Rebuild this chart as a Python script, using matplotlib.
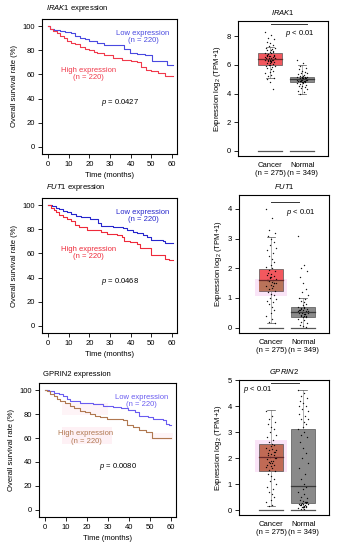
import matplotlib.pyplot as plt
from matplotlib.patches import Rectangle

plt.rcParams['font.family'] = ['Liberation Sans', 'DejaVu Sans']
plt.rcParams['mathtext.fontset'] = 'custom'
plt.rcParams['mathtext.it'] = 'Liberation Sans:italic'
plt.rcParams['mathtext.rm'] = 'Liberation Sans'

# ---- data: Kaplan-Meier curves (months, % surviving) ----
genes = ['IRAK1', 'FUT1', 'GPRIN2']
p_km = ['0.0427', '0.0468', '0.0080']

irak1_low_t = [0, 1, 3, 6, 8, 11, 13, 15.5, 18, 20, 23.5, 27, 31, 37, 39.5, 43, 47, 50.5, 57.5, 60.5]
irak1_low_s = [100, 98, 97, 96, 95, 94, 92, 90, 89, 88, 86, 84, 84, 81.5, 78, 77, 76, 71, 68, 68]
irak1_high_t = [0, 1, 2.5, 4.5, 6, 7.5, 9, 11, 13, 15.5, 18, 20, 22, 23.5, 27, 31.5, 36, 40, 43, 45, 47.5, 50, 53, 56.5, 60.5]
irak1_high_s = [100, 97.5, 96, 94, 92, 90, 88, 86, 85, 83, 81, 80, 79, 78, 76, 74, 72, 71, 70.5, 66, 63.5, 63, 61, 58.5, 58.5]

fut1_low_t = [0, 2, 4, 5.5, 7, 9, 11, 13.5, 16, 20.5, 24, 25.5, 31.5, 36.5, 38, 41, 43, 46, 48, 50, 55.5, 56.5, 60.5]
fut1_low_s = [100, 99, 98, 96.5, 95.3, 94, 92.6, 91, 90, 88.5, 85, 83, 81.6, 81, 79.5, 78, 76.7, 75.5, 74, 71, 70, 68.5, 68.5]
fut1_high_t = [0, 1.5, 3, 4, 5.5, 7, 9, 11, 13, 15, 19, 25.5, 28.5, 33.5, 35.8, 36.6, 39.8, 43, 44.6, 50, 56.7, 58.5, 60.5]
fut1_high_s = [100, 97.5, 96, 94, 92, 90.4, 88.5, 86.6, 84, 81.6, 79.5, 77.5, 76, 75, 73.4, 70.7, 69.3, 68, 64.7, 58.4, 55.6, 54.2, 54.2]

gprin2_low_t = [0, 2, 4, 6.5, 8.7, 10.5, 11.9, 16.7, 23, 27.8, 32.5, 36, 39.7, 42.9, 45, 49.2, 51.6, 56.3, 57.9, 59, 60.3]
gprin2_low_s = [100, 99, 97.8, 96.5, 95, 93, 91, 89.7, 88.3, 87, 86, 85, 83.4, 82, 78.8, 77.4, 76, 74.7, 72, 71, 71]
gprin2_high_t = [0, 0.8, 2.5, 4, 5.5, 7, 9.5, 11.9, 14, 16.7, 19, 21.4, 24, 26, 29.4, 37, 38.9, 42, 45, 48, 50.8, 60.3]
gprin2_high_s = [100, 99, 97, 95, 93, 91, 89, 87, 85, 83, 81.5, 80, 78.5, 77.4, 76, 74.7, 70.6, 69.3, 67, 65, 60.3, 60.3]

km_curves = [
    (irak1_low_t, irak1_low_s, irak1_high_t, irak1_high_s),
    (fut1_low_t, fut1_low_s, fut1_high_t, fut1_high_s),
    (gprin2_low_t, gprin2_low_s, gprin2_high_t, gprin2_high_s),
]

# ---- data: expression box plots (q1, median, q3, whisker low, whisker high) ----
groups = ['Cancer\n(n = 275)', 'Normal\n(n = 349)']
irak1_box = [(5.99, 6.4, 6.84, 5.06, 7.26), (4.78, 4.99, 5.17, 3.94, 5.99)]
fut1_box = [(1.25, 1.61, 1.98, 0.17, 3.04), (0.37, 0.53, 0.71, 0.0, 0.99)]
gprin2_box = [(1.5, 2.03, 2.56, 0.17, 3.85), (0.28, 0.94, 3.12, 0.0, 4.62)]
boxes = [irak1_box, fut1_box, gprin2_box]

irak1_cancer_pts = [8.3, 8.1, 7.9, 7.8, 7.6, 7.5, 7.4, 7.3, 7.2, 7.15, 7.1, 7.05, 7.0, 6.95, 6.9, 6.85, 6.8,
                    6.75, 6.7, 6.65, 6.6, 6.55, 6.5, 6.48, 6.45, 6.42, 6.4, 6.38, 6.35, 6.32, 6.3, 6.28, 6.25,
                    6.2, 6.15, 6.1, 6.05, 6.0, 5.95, 5.9, 5.85, 5.8, 5.7, 5.6, 5.5, 5.4, 5.3, 5.2, 5.1, 5.0,
                    4.8, 4.3, 6.6, 6.5, 6.4, 6.3, 6.7, 6.2, 6.9, 6.0, 6.52, 6.44, 6.36, 6.58, 6.62, 6.26]
irak1_normal_pts = [6.3, 6.1, 5.9, 5.8, 5.7, 5.6, 5.5, 5.45, 5.4, 5.35, 5.3, 5.25, 5.2, 5.18, 5.15, 5.12, 5.1,
                    5.08, 5.05, 5.02, 5.0, 4.98, 4.95, 4.92, 4.9, 4.88, 4.85, 4.82, 4.8, 4.78, 4.75, 4.7, 4.65,
                    4.6, 4.55, 4.5, 4.45, 4.4, 4.3, 4.2, 4.1, 4.0, 5.0, 4.9, 5.1, 4.95, 5.05, 4.85, 4.97,
                    5.03, 4.93, 5.07, 4.87, 5.13]
fut1_cancer_pts = [4.0, 3.7, 3.3, 3.2, 3.1, 3.0, 2.9, 2.8, 2.7, 2.6, 2.5, 2.4, 2.3, 2.2, 2.1, 2.05, 2.0, 1.95,
                   1.9, 1.85, 1.8, 1.75, 1.7, 1.65, 1.62, 1.6, 1.58, 1.55, 1.5, 1.45, 1.4, 1.35, 1.3, 1.25,
                   1.2, 1.15, 1.1, 1.0, 0.95, 0.9, 0.85, 0.8, 0.7, 0.6, 0.5, 0.4, 0.3, 0.2, 0.15, 1.6, 1.7, 1.5,
                   1.68, 1.52, 1.78, 1.42]
fut1_normal_pts = [3.1, 2.1, 2.0, 1.9, 1.7, 1.5, 1.3, 1.2, 1.1, 1.0, 0.95, 0.9, 0.85, 0.8, 0.75, 0.7, 0.68,
                   0.65, 0.62, 0.6, 0.58, 0.55, 0.53, 0.5, 0.48, 0.45, 0.42, 0.4, 0.38, 0.35, 0.3, 0.25, 0.2,
                   0.15, 0.1, 0.05, 0.02, 0.5, 0.55, 0.6, 0.45, 0.4, 0.65, 0.35, 0.52, 0.57, 0.47, 0.62]
gprin2_cancer_pts = [3.8, 3.6, 3.5, 3.4, 3.3, 3.2, 3.1, 3.0, 2.9, 2.8, 2.7, 2.6, 2.55, 2.5, 2.45, 2.4, 2.35,
                     2.3, 2.25, 2.2, 2.15, 2.1, 2.05, 2.0, 1.95, 1.9, 1.85, 1.8, 1.75, 1.7, 1.65, 1.6, 1.55,
                     1.5, 1.4, 1.3, 1.2, 1.1, 1.0, 0.9, 0.8, 0.7, 0.6, 0.5, 0.4, 0.3, 0.2, 0.15, 2.0, 2.1, 1.9,
                     2.22, 1.82, 2.32, 1.72]
gprin2_normal_pts = [4.6, 4.5, 4.4, 4.3, 4.2, 4.1, 4.0, 3.9, 3.8, 3.7, 3.6, 3.5, 3.4, 3.3, 3.2, 3.1, 3.0, 2.9,
                     2.8, 2.6, 2.4, 2.2, 2.0, 1.8, 1.6, 1.4, 1.2, 1.0, 0.9, 0.8, 0.7, 0.6, 0.5, 0.45, 0.4,
                     0.35, 0.3, 0.28, 0.25, 0.22, 0.2, 0.18, 0.15, 0.12, 0.1, 0.08, 0.05, 0.03, 0.3, 0.2,
                     0.25, 0.15, 0.1, 3.5, 4.0, 0.32, 0.22, 0.12, 0.27]
points = [(irak1_cancer_pts, irak1_normal_pts), (fut1_cancer_pts, fut1_normal_pts),
          (gprin2_cancer_pts, gprin2_normal_pts)]

box_ylims = [(-0.35, 9.05), (-0.18, 4.47), (-0.19, 5.0)]
box_yticks = [[0, 2, 4, 6, 8], [0, 1, 2, 3, 4], [0, 1, 2, 3, 4, 5]]
sig_line = [(8.82, 1.02, 2.15), (4.24, 1.0, 1.87), (4.87, 1.0, 1.87)]
p_box_pos = [(1.93, 8.19), (1.93, 3.89), (0.6, 4.62)]

# ---- styling ----
km_blue = ['#4a4ae0', '#2626cc', '#6a5cf0']
km_red = ['#f03a4c', '#ee2a3a', '#b07850']
km_pos = [(0.124, 0.72, 0.40, 0.2455), (0.124, 0.3945, 0.40, 0.2455), (0.115, 0.06, 0.406, 0.2436)]
box_pos = [(0.704, 0.7164, 0.266, 0.2454), (0.707, 0.3945, 0.266, 0.251), (0.707, 0.0636, 0.266, 0.2454)]
cancer_col = ['#f2585e', '#f2585e', '#c06a55']
jitter = [-0.15, 0.04, -0.06, 0.12, -0.1, 0.0, 0.08, -0.03, 0.15, -0.12, 0.06, -0.08, 0.02, 0.1, -0.01]
fs = 5.5

fig = plt.figure(figsize=(3.38, 5.5), dpi=100)

for i in range(3):
    lt, ls, ht, hs = km_curves[i]
    ax = fig.add_axes(km_pos[i])
    if i == 2:
        # faint pink highlight seen in the original figure
        ax.add_patch(Rectangle((8, 55), 24, 14, color='#fef1f5', zorder=0, lw=0))
        ax.add_patch(Rectangle((8, 79), 22, 10, color='#fef4f7', zorder=0, lw=0))
        ax.add_patch(Rectangle((50, 58), 11, 6, color='#fef4f7', zorder=0, lw=0))
    ax.step(lt, ls, where='post', color=km_blue[i], lw=0.8)
    ax.step(ht, hs, where='post', color=km_red[i], lw=0.8)
    ax.text(46, 94, 'Low expression', color=km_blue[i], fontsize=fs, ha='center', va='center')
    ax.text(46, 88, '(n = 220)', color=km_blue[i], fontsize=fs, ha='center', va='center')
    ax.text(19.5, 63.5, 'High expression', color=km_red[i], fontsize=fs, ha='center', va='center')
    ax.text(19.5, 57.5, '(n = 220)', color=km_red[i], fontsize=fs, ha='center', va='center')
    ax.text(35, 36.5, '$\\mathit{p}$ = ' + p_km[i], fontsize=fs, ha='center', va='center')
    ax.set_xlim(-3, 62.5)
    ax.set_ylim(-6, 106)
    ax.set_xticks(range(0, 61, 10))
    ax.set_yticks(range(0, 101, 20))
    ax.tick_params(labelsize=fs, length=3, width=0.6, pad=2)
    for sp in ax.spines.values():
        sp.set_linewidth(0.8)
    ax.set_ylabel('Overall survival rate (%)', fontsize=fs, labelpad=3)
    ax.set_xlabel('Time (months)', fontsize=fs, labelpad=3)
    if i == 2:
        title = 'GPRIN2 expression'
    else:
        title = '$\\mathit{' + genes[i] + '}$ expression'
    ax.text(0.03, 1.035, title, transform=ax.transAxes, fontsize=fs, ha='left', va='bottom')

for i in range(3):
    ax = fig.add_axes(box_pos[i])
    cols = [cancer_col[i], '#8a8a8a']
    meds = ['#6a2a2a', '#3a3a3a']
    if i in (1, 2):
        lo = 1.07 if i == 1 else 1.47
        hi = 1.63 if i == 1 else 2.69
        ax.add_patch(Rectangle((0.5, lo), 1.0, hi - lo, color='#f8d2f2', alpha=0.6, zorder=0, lw=0))
    for k in range(2):
        q1, med, q3, wlo, whi = boxes[i][k]
        x = k + 1
        ax.add_patch(Rectangle((x - 0.37, q1), 0.74, q3 - q1, facecolor=cols[k],
                               edgecolor='#555555', lw=0.5, zorder=1))
        if i == 1 and k == 0:
            ax.add_patch(Rectangle((x - 0.37, q1), 0.74, med - q1, facecolor='#b9735a',
                                   edgecolor='none', zorder=1.1))
        ax.plot([x, x], [wlo, q1], color='#777777', lw=0.4, zorder=1)
        ax.plot([x, x], [q3, whi], color='#777777', lw=0.4, zorder=1)
        ax.plot([x - 0.12, x + 0.12], [whi, whi], color='#555555', lw=0.5, zorder=1)
        ax.plot([x - 0.12, x + 0.12], [wlo, wlo], color='#555555', lw=0.5, zorder=1)
        ax.plot([x - 0.37, x + 0.37], [0, 0], color='#555555', lw=0.9, zorder=1)
        ax.plot([x - 0.37, x + 0.37], [med, med], color=meds[k], lw=0.9, zorder=3)
        pts = points[i][k]
        xs = [x + jitter[j % len(jitter)] for j in range(len(pts))]
        ax.scatter(xs, pts, s=1.0, color='black', alpha=0.9, lw=0, zorder=2)
    y, x0, x1 = sig_line[i]
    ax.plot([x0, x1], [y, y], color='#333333', lw=0.7)
    ax.text(p_box_pos[i][0], p_box_pos[i][1], '$\\mathit{p}$ < 0.01', fontsize=fs,
            ha='center', va='center')
    ax.set_xlim(0, 2.8)
    ax.set_ylim(*box_ylims[i])
    ax.set_yticks(box_yticks[i])
    ax.set_xticks([1, 2])
    ax.set_xticklabels(groups, fontsize=fs)
    ax.tick_params(axis='x', length=0, pad=4)
    ax.tick_params(axis='y', labelsize=fs, length=3, width=0.6, pad=2)
    for sp in ax.spines.values():
        sp.set_linewidth(0.8)
    ax.set_ylabel('Expression log$_2$ (TPM+1)', fontsize=fs, labelpad=3)
    ax.set_title('$\\mathit{' + genes[i] + '}$', fontsize=fs, pad=4)

fig.savefig('out.png', dpi=100)
